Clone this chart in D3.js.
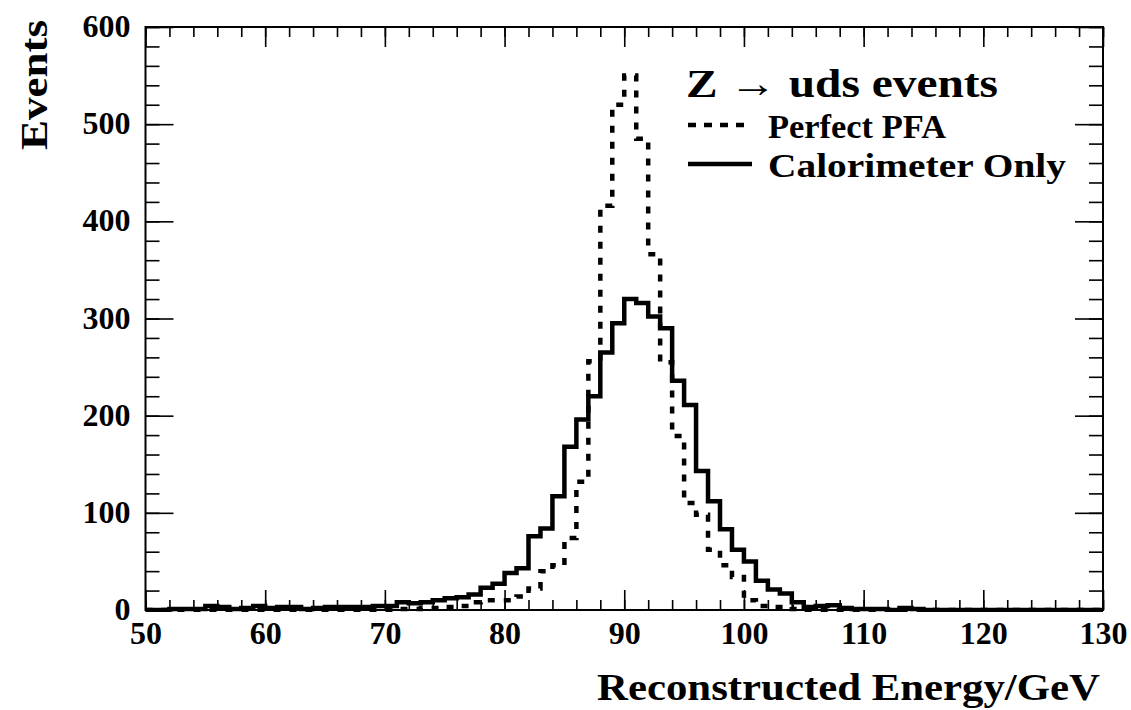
<!DOCTYPE html>
<html><head><meta charset="utf-8">
<script src="https://cdn.jsdelivr.net/npm/d3@7"></script>
<style>
body{margin:0;background:#fff}
svg text{font-family:"Liberation Serif","Times New Roman",serif;font-weight:bold;fill:#000}
</style>
</head><body>
<svg id="chart" width="1131" height="710"></svg>
<script>
// bin lower edges (1 GeV bins from 50 to 130)
const binEdges = d3.range(50, 130);
const calorimeterOnly = [
  0,0,1,1,1,4,3,1,2,4,
  2,3,3,1,2,3,3,3,3,4,
  4,8,7,8,10,12,13,16,23,27,
  38,43,76,84,117,168,196,220,265,295,
  320,316,302,290,236,211,143,112,83,62,
  50,30,21,17,8,3,4,5,2,1,
  1,1,0,2,1,0,0,0,0,0,
  0,0,0,0,0,0,0,0,0,0
];
const perfectPFA = [
  0,0,0,0,0,0,0,0,0,0,
  0,0,0,0,0,0,0,0,0,0,
  0,1,1,2,2,3,4,8,10,10,
  10,14,22,40,46,74,132,256,416,520,
  550,485,366,255,179,110,98,62,46,34,
  10,4,3,3,1,0,0,0,0,0,
  0,0,0,0,0,0,0,0,0,0,
  0,0,0,0,0,0,0,0,0,0
];
const xMajorTicks = [50,60,70,80,90,100,110,120,130];
const xMinorTicks = d3.range(50, 131, 2);
const yMajorTicks = [0,100,200,300,400,500,600];
const yMinorTicks = d3.range(0, 601, 20);
const titleText = "Z \u2192 uds events";
const seriesNames = ["Perfect PFA", "Calorimeter Only"];
const xTitle = "Reconstructed Energy/GeV";
const yTitle = "Events";

const L = 145.5, R = 1103, T = 27, B = 610;
const svg = d3.select("#chart");
const x = d3.scaleLinear().domain([50, 130]).range([L, R]);
const y = d3.scaleLinear().domain([0, 600]).range([B, T]);

function histPoints(vals) {
  const pts = [[50, 0]];
  vals.forEach((v, i) => pts.push([binEdges[i], v]));
  pts.push([130, vals[vals.length - 1]]);
  pts.push([130, 0]);
  return pts;
}
const line = d3.line().x(d => x(d[0])).y(d => y(d[1])).curve(d3.curveStepAfter);

svg.append("clipPath").attr("id", "clip").append("rect")
  .attr("x", L).attr("y", T).attr("width", R - L).attr("height", B - T + 2);

svg.append("path").attr("clip-path", "url(#clip)")
  .attr("d", line(histPoints(perfectPFA)))
  .attr("fill", "none").attr("stroke", "#000").attr("stroke-width", 4.5)
  .attr("stroke-dasharray", "7,9");
svg.append("path").attr("clip-path", "url(#clip)")
  .attr("d", line(histPoints(calorimeterOnly)))
  .attr("fill", "none").attr("stroke", "#000").attr("stroke-width", 4.5)
  .attr("stroke-linejoin", "miter");

function styleAxis(g) {
  g.select(".domain").remove();
  g.selectAll(".tick line").attr("stroke", "#000").attr("stroke-width", 1.6);
}
const fs = 32;
// bottom
svg.append("g").attr("transform", `translate(0,${B})`)
  .call(d3.axisBottom(x).tickValues(xMinorTicks).tickSize(-10).tickFormat(""))
  .call(styleAxis);
const gxb = svg.append("g").attr("transform", `translate(0,${B})`)
  .call(d3.axisBottom(x).tickValues(xMajorTicks).tickSize(-20).tickFormat(d3.format("d")))
  .call(styleAxis);
gxb.selectAll(".tick text").attr("font-size", fs).attr("font-family", null)
  .attr("dy", "0.2em").attr("y", 28);
// top
svg.append("g").attr("transform", `translate(0,${T})`)
  .call(d3.axisTop(x).tickValues(xMinorTicks).tickSize(-10).tickFormat(""))
  .call(styleAxis);
svg.append("g").attr("transform", `translate(0,${T})`)
  .call(d3.axisTop(x).tickValues(xMajorTicks).tickSize(-20).tickFormat(""))
  .call(styleAxis);
// left
svg.append("g").attr("transform", `translate(${L},0)`)
  .call(d3.axisLeft(y).tickValues(yMinorTicks).tickSize(-14).tickFormat(""))
  .call(styleAxis);
const gyl = svg.append("g").attr("transform", `translate(${L},0)`)
  .call(d3.axisLeft(y).tickValues(yMajorTicks).tickSize(-28).tickFormat(d3.format("d")))
  .call(styleAxis);
gyl.selectAll(".tick text").attr("font-size", fs).attr("font-family", null)
  .attr("x", -15).attr("dy", "0.3em");
// right
svg.append("g").attr("transform", `translate(${R},0)`)
  .call(d3.axisRight(y).tickValues(yMinorTicks).tickSize(-14).tickFormat(""))
  .call(styleAxis);
svg.append("g").attr("transform", `translate(${R},0)`)
  .call(d3.axisRight(y).tickValues(yMajorTicks).tickSize(-28).tickFormat(""))
  .call(styleAxis);

// frame
svg.append("rect").attr("x", L).attr("y", T).attr("width", R - L).attr("height", B - T)
  .attr("fill", "none").attr("stroke", "#000").attr("stroke-width", 2);

// axis titles
svg.append("text").attr("x", 1100).attr("y", 700).attr("text-anchor", "end")
  .attr("font-size", 37).attr("textLength", 503).attr("lengthAdjust", "spacingAndGlyphs")
  .text(xTitle);
svg.append("text").attr("transform", "translate(47,20) rotate(-90)")
  .attr("text-anchor", "end").attr("font-size", 37)
  .attr("textLength", 130).attr("lengthAdjust", "spacingAndGlyphs")
  .text(yTitle);

// legend
svg.append("text").attr("x", 686).attr("y", 97).attr("font-size", 41)
  .attr("textLength", 312).attr("lengthAdjust", "spacingAndGlyphs").text(titleText);
svg.append("line").attr("x1", 688).attr("x2", 748).attr("y1", 125).attr("y2", 125)
  .attr("stroke", "#000").attr("stroke-width", 4.5).attr("stroke-dasharray", "8,8");
svg.append("text").attr("x", 768).attr("y", 138).attr("font-size", 34)
  .attr("textLength", 178).attr("lengthAdjust", "spacingAndGlyphs").text(seriesNames[0]);
svg.append("line").attr("x1", 688).attr("x2", 752).attr("y1", 164).attr("y2", 164)
  .attr("stroke", "#000").attr("stroke-width", 4.5);
svg.append("text").attr("x", 768).attr("y", 177).attr("font-size", 34)
  .attr("textLength", 298).attr("lengthAdjust", "spacingAndGlyphs").text(seriesNames[1]);
</script>
</body></html>
